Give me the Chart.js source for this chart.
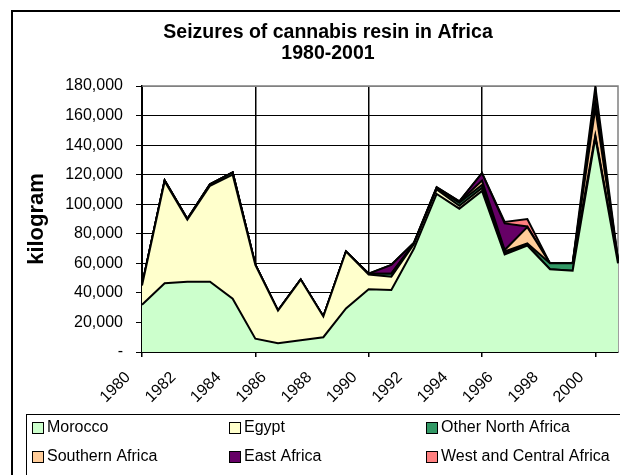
<!DOCTYPE html>
<html>
<head>
<meta charset="utf-8">
<title>Seizures of cannabis resin in Africa 1980-2001</title>
<script src="https://cdn.jsdelivr.net/npm/chart.js@4.4.0/dist/chart.umd.min.js"></script>
<style>
  html, body { margin: 0; padding: 0; background: #fff; }
  #wrap { width: 620px; height: 475px; }
</style>
</head>
<body>
<div id="wrap"><canvas id="chart" width="620" height="475"></canvas></div>
<script>
// Data (kilograms)
const years = ['1980', '1981', '1982', '1983', '1984', '1985', '1986', '1987', '1988', '1989', '1990',
               '1991', '1992', '1993', '1994', '1995', '1996', '1997', '1998', '1999', '2000', '2001'];
const morocco = [32000, 46500, 47500, 47500, 36000, 9000, 6000, 8000, 10000, 29500, 42500,
                 42000, 70000, 107000, 97000, 109000, 66000, 72000, 56000, 55000, 145000, 60000];
const egypt = [13000, 69000, 42000, 65000, 84000, 50000, 22000, 41000, 14000, 38500, 10000,
               9000, 3000, 3000, 2000, 2000, 1000, 500, 0, 0, 500, 500];
const otherNorthAfrica = [0, 500, 500, 1000, 1500, 0, 0, 0, 0, 0, 500,
                          2000, 500, 500, 2000, 2000, 1000, 1000, 4000, 5000, 1000, 1000];
const southernAfrica = [0, 0, 0, 0, 0, 0, 0, 0, 0, 0, 0,
                        0, 0, 500, 500, 3000, 1000, 11000, 0, 0, 18500, 500];
const eastAfrica = [0, 0, 0, 0, 0, 0, 0, 0, 0, 0, 0,
                    6000, 500, 500, 500, 5000, 18000, 500, 0, 0, 6000, 500];
const westCentralAfrica = [0, 0, 0, 0, 0, 0, 0, 0, 0, 0, 0,
                           0, 0, 0, 0, 0, 1000, 5000, 0, 0, 8500, 0];
const seriesNames = ['Morocco', 'Egypt', 'Other North Africa', 'Southern Africa', 'East Africa', 'West and Central Africa'];
const titleLines = ['Seizures of cannabis resin in Africa', '1980-2001'];
const yMax = 180000;
const yStep = 20000;

const FONT = "'Liberation Sans', Arial, sans-serif";
const colors = ['#CCFFCC', '#FFFFCC', '#339966', '#FFCC99', '#660066', '#FF8080'];

// title, frame, plot border and the boxed legend
const decorations = {
    id: 'decorations',
    beforeDraw(chart) {
        const ctx = chart.ctx;
        ctx.save();
        ctx.fillStyle = '#fff';
        ctx.fillRect(0, 0, chart.width, chart.height);
        ctx.restore();
    },
    beforeDatasetsDraw(chart) {
        const {ctx, chartArea: a} = chart;
        ctx.save();
        ctx.strokeStyle = '#808080';
        ctx.lineWidth = 1.5;
        ctx.beginPath();
        ctx.moveTo(a.left, a.top);
        ctx.lineTo(a.right, a.top);
        ctx.lineTo(a.right, a.bottom);
        ctx.stroke();
        ctx.restore();
    },
    afterDraw(chart) {
        const ctx = chart.ctx;
        ctx.save();
        // chart title
        ctx.fillStyle = '#000';
        ctx.font = 'bold 19.5px ' + FONT;
        ctx.textAlign = 'center';
        ctx.textBaseline = 'middle';
        ctx.fillText(titleLines[0], 328, 32.5);
        ctx.fillText(titleLines[1], 328, 53.5);

        // outer frame (cut off at right and bottom)
        ctx.strokeStyle = '#000';
        ctx.lineWidth = 2;
        ctx.strokeRect(12, 11, 700, 600);

        // legend box
        ctx.lineWidth = 1;
        ctx.strokeRect(26.5, 414.5, 700, 100);
        const cols = [32, 229, 426];
        const rows = [428, 457];
        ctx.font = '16px ' + FONT;
        ctx.textAlign = 'left';
        chart.data.datasets.forEach((ds, i) => {
            const x = cols[i % 3];
            const y = rows[Math.floor(i / 3)];
            ctx.fillStyle = ds.backgroundColor;
            ctx.fillRect(x + 0.5, y - 5.5, 11, 11);
            ctx.strokeStyle = '#000';
            ctx.strokeRect(x + 0.5, y - 5.5, 11, 11);
            ctx.fillStyle = '#000';
            ctx.fillText(ds.label, x + 15, y);
        });
        ctx.restore();
    }
};

const seriesData = [morocco, egypt, otherNorthAfrica, southernAfrica, eastAfrica, westCentralAfrica];

new Chart(document.getElementById('chart'), {
    type: 'line',
    data: {
        labels: years,
        datasets: seriesData.map((values, i) => ({
            label: seriesNames[i],
            data: values,
            backgroundColor: colors[i],
            borderColor: '#000',
            borderWidth: 2,
            fill: i === 0 ? 'origin' : '-1',
            pointRadius: 0,
            tension: 0
        }))
    },
    options: {
        responsive: false,
        animation: false,
        devicePixelRatio: 1,
        layout: { padding: { left: 14, right: 2, top: 86, bottom: 59 } },
        plugins: {
            legend: { display: false },
            title: { display: false },
            tooltip: { enabled: false }
        },
        scales: {
            x: {
                offset: false,
                grid: {
                    offset: false,
                    lineWidth: 1.5,
                    tickLength: 5,
                    color: c => (c.index % 5 === 0 && c.index > 0 && c.index < years.length - 1) ? '#000' : 'rgba(0,0,0,0)',
                    tickColor: c => (c.index % 5 === 0) ? '#000' : 'rgba(0,0,0,0)'
                },
                border: { color: '#000', width: 2 },
                ticks: {
                    autoSkip: false,
                    maxRotation: 45,
                    minRotation: 45,
                    padding: 11,
                    labelOffset: -14,
                    color: '#000',
                    font: { family: FONT, size: 16 },
                    callback(value, index) { return index % 2 === 0 ? years[index] : ''; }
                },
                afterFit(scale) {
                    scale.height = 64;
                    scale.paddingLeft = 0;
                    scale.paddingRight = 0;
                }
            },
            y: {
                stacked: true,
                min: 0,
                max: yMax,
                grid: {
                    lineWidth: 1,
                    tickLength: 6,
                    color: c => c.tick && c.tick.value === yMax ? '#808080' : '#000',
                    tickColor: '#000'
                },
                border: { color: '#000', width: 2 },
                ticks: {
                    stepSize: yStep,
                    padding: 13,
                    color: '#000',
                    font: { family: FONT, size: 16 },
                    callback: v => v === 0 ? '-' : v.toLocaleString('en-US')
                },
                title: {
                    display: true,
                    text: 'kilogram',
                    color: '#000',
                    font: { family: FONT, size: 22, weight: 'bold' },
                    padding: { top: 10, bottom: 0 }
                },
                afterFit(scale) { scale.width = 128; }
            }
        }
    },
    plugins: [decorations]
});
</script>
</body>
</html>
